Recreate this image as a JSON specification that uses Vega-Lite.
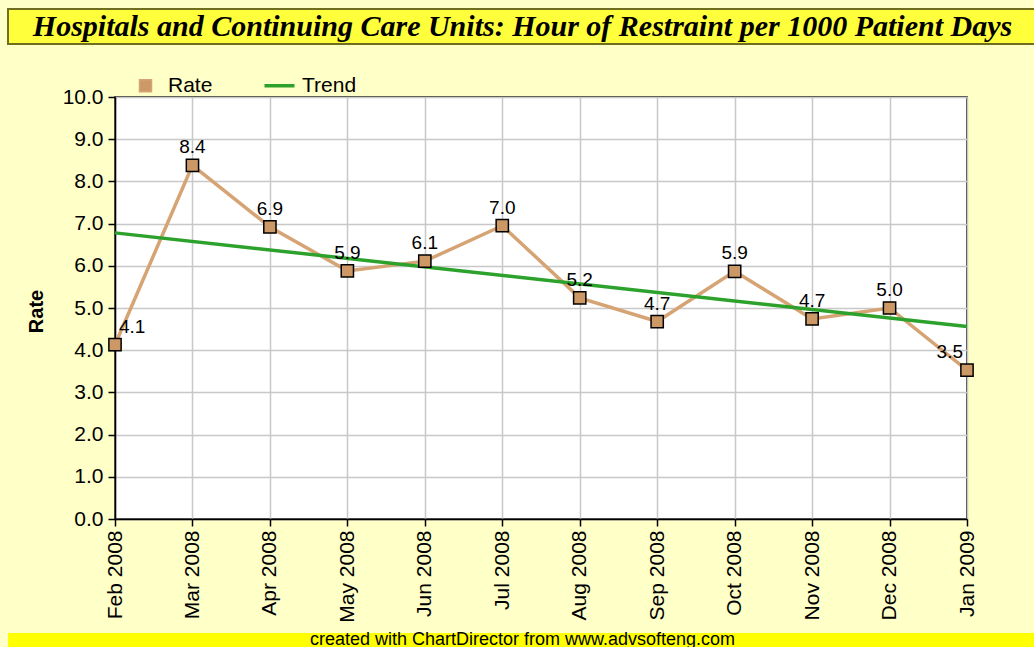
{
  "$schema": "https://vega.github.io/schema/vega-lite/v6.json",
  "background": "#FFFFC8",
  "padding": {"left": 5, "top": 8, "right": 0, "bottom": 0},
  "datasets": {
    "rate": [
      {"month": "Feb 2008", "value": 4.13, "series": "Rate"},
      {"month": "Mar 2008", "value": 8.38, "series": "Rate"},
      {"month": "Apr 2008", "value": 6.92, "series": "Rate"},
      {"month": "May 2008", "value": 5.88, "series": "Rate"},
      {"month": "Jun 2008", "value": 6.11, "series": "Rate"},
      {"month": "Jul 2008", "value": 6.95, "series": "Rate"},
      {"month": "Aug 2008", "value": 5.24, "series": "Rate"},
      {"month": "Sep 2008", "value": 4.68, "series": "Rate"},
      {"month": "Oct 2008", "value": 5.87, "series": "Rate"},
      {"month": "Nov 2008", "value": 4.74, "series": "Rate"},
      {"month": "Dec 2008", "value": 5.0, "series": "Rate"},
      {"month": "Jan 2009", "value": 3.53, "series": "Rate"}
    ],
    "trend": [
      {"month": "Feb 2008", "value": 6.78, "series": "Trend"},
      {"month": "Jan 2009", "value": 4.56, "series": "Trend"}
    ]
  },
  "columns": 1,
  "spacing": 29,
  "resolve": {"legend": {"color": "independent"}},
  "concat": [
    {
      "width": 1029,
      "height": 35,
      "view": {"fill": "#FFFF3C", "stroke": "#6E6E1E", "strokeWidth": 2},
      "data": {"values": [{"title": "Hospitals and Continuing Care Units: Hour of Restraint per 1000 Patient Days"}]},
      "mark": {"type": "text", "font": "Liberation Serif", "fontSize": 30, "fontWeight": "bold", "fontStyle": "italic", "color": "black", "baseline": "middle", "align": "center"},
      "encoding": {"text": {"field": "title"}}
    },
    {
      "columns": 1,
      "spacing": 8,
      "resolve": {"legend": {"color": "independent"}},
      "concat": [
        {
          "hconcat": [
            {
              "width": 1,
              "height": 1,
              "view": {"fill": "#FFFFC8", "stroke": null},
              "data": {"values": [{"blank": 0}]},
              "mark": {"type": "point", "opacity": 0}
            },
            {
              "width": 852,
              "height": 422,
              "view": {"fill": "white", "stroke": "black", "strokeWidth": 1.5},
              "encoding": {
                "x": {
                  "field": "month", "type": "ordinal", "sort": null,
                  "scale": {"type": "point", "padding": 0, "domain": ["Feb 2008", "Mar 2008", "Apr 2008", "May 2008", "Jun 2008", "Jul 2008", "Aug 2008", "Sep 2008", "Oct 2008", "Nov 2008", "Dec 2008", "Jan 2009"]},
                  "axis": {"title": null, "labelAngle": -90, "labelFont": "Liberation Sans", "labelFontSize": 21, "labelColor": "black", "labelPadding": 4, "labelFlush": false, "labelOverlap": false, "tickSize": 7, "tickColor": "black", "tickWidth": 1.5, "domainColor": "black", "domainWidth": 1.5, "grid": true, "gridColor": "#C8C8C8", "gridWidth": 1.5}
                },
                "y": {
                  "field": "value", "type": "quantitative",
                  "scale": {"domain": [0, 10], "nice": false},
                  "axis": {"title": "Rate", "values": [0, 1, 2, 3, 4, 5, 6, 7, 8, 9, 10], "format": ".1f", "labelFont": "Liberation Sans", "labelFontSize": 21, "labelColor": "black", "labelPadding": 5, "labelFlush": false, "labelOverlap": false, "tickSize": 7, "tickColor": "black", "tickWidth": 1.5, "domainColor": "black", "domainWidth": 1.5, "grid": true, "gridColor": "#C8C8C8", "gridWidth": 1.5, "titleFont": "Liberation Sans", "titleFontSize": 20, "titleFontWeight": "bold", "titleColor": "black", "titleAngle": 270, "titleAlign": "center", "titleBaseline": "middle", "titleX": -79, "titleY": 214, "titlePadding": 0, "minExtent": 102}
                }
              },
              "layer": [
                {
                  "data": {"name": "rate"},
                  "mark": {"type": "line", "strokeWidth": 3.5},
                  "encoding": {
                    "color": {
                      "field": "series", "type": "nominal",
                      "scale": {"domain": ["Rate", "Trend"], "range": ["#D6A474", "#2CA22C"]},
                      "legend": {
                        "title": null, "orient": "none", "legendX": 20, "legendY": -22, "direction": "horizontal",
                        "padding": 0, "columnPadding": 44, "labelFont": "Liberation Sans", "labelFontSize": 21, "labelColor": "black", "labelOffset": 12,
                        "symbolSize": 900,
                        "encode": {
                          "symbols": {
                            "update": {
                              "shape": {"signal": "datum.value === 'Rate' ? 'square' : 'stroke'"},
                              "size": {"signal": "datum.value === 'Rate' ? 144 : 900"},
                              "fill": {"signal": "datum.value === 'Rate' ? '#CC9966' : 'transparent'"},
                              "stroke": {"signal": "datum.value === 'Rate' ? '#000000' : '#2CA22C'"},
                              "strokeWidth": {"signal": "datum.value === 'Rate' ? 1.5 : 3.5"},
                              "opacity": {"value": 1}
                            }
                          }
                        }
                      }
                    }
                  }
                },
                {
                  "data": {"name": "trend"},
                  "mark": {"type": "line", "strokeWidth": 3.5},
                  "encoding": {"color": {"field": "series", "type": "nominal"}}
                },
                {
                  "data": {"name": "rate"},
                  "mark": {"type": "point", "shape": "square", "filled": true, "fill": "#CC9966", "stroke": "black", "strokeWidth": 1.5, "size": 150, "opacity": 1}
                },
                {
                  "data": {"name": "rate"},
                  "mark": {
                    "type": "text", "font": "Liberation Sans", "fontSize": 19, "color": "black", "baseline": "middle", "dy": -18,
                    "align": {"expr": "datum.month === 'Feb 2008' ? 'left' : datum.month === 'Jan 2009' ? 'right' : 'center'"},
                    "dx": {"expr": "datum.month === 'Feb 2008' ? 4 : datum.month === 'Jan 2009' ? -4 : 0"}
                  },
                  "encoding": {"text": {"field": "value", "type": "quantitative", "format": ".1f"}}
                }
              ]
            }
          ],
          "spacing": 0,
          "resolve": {"legend": {"color": "independent"}}
        },
        {
          "width": 1029,
          "height": 16,
          "view": {"fill": "#FFFF00", "stroke": null},
          "data": {"values": [{"credit": "created with ChartDirector from www.advsofteng.com"}]},
          "mark": {"type": "text", "font": "Liberation Sans", "fontSize": 18, "color": "black", "baseline": "middle", "align": "center", "dy": -1},
          "encoding": {"text": {"field": "credit"}}
        }
      ]
    }
  ]
}
